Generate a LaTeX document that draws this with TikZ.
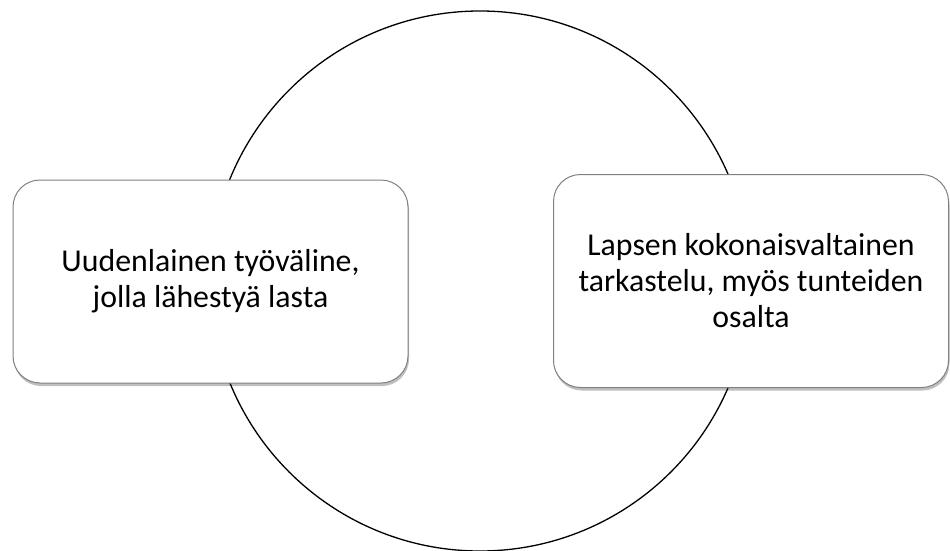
\documentclass[tikz,border=0pt]{standalone}
\usepackage{fontspec}
\setmainfont{Carlito}
\usetikzlibrary{shadows}
\begin{document}
\begin{tikzpicture}[x=1pt,y=-1pt,
  box/.style={draw=black!50, line width=1pt, fill=white, rounded corners=27pt,
    drop shadow={shadow xshift=1pt, shadow yshift=-3pt, opacity=0.25, fill=black},
    align=center, font=\fontsize{31.8}{36}\selectfont, inner sep=0pt},
  ring/.style={draw=black, line width=1.3pt}]
\useasboundingbox (0,0) rectangle (950,551);
\node[ring, circle, minimum size=540pt, inner sep=0pt] (c) at (480,281) {};
\node[box, minimum width=395pt, minimum height=203pt] (l) at (210.5,281.5)
  {Uudenlainen työväline,\\jolla lähestyä lasta};
\node[box, minimum width=395pt, minimum height=213pt] (r) at (751,281)
  {Lapsen kokonaisvaltainen\\tarkastelu, myös tunteiden\\osalta};
\end{tikzpicture}
\end{document}
